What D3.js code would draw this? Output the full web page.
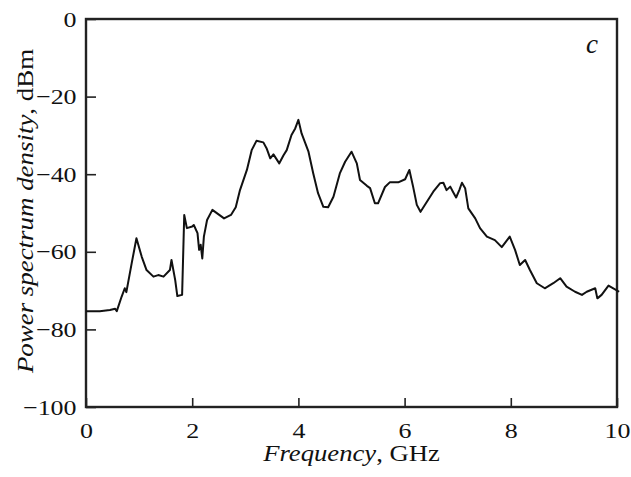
<!DOCTYPE html>
<html>
<head>
<meta charset="utf-8">
<script src="https://cdn.jsdelivr.net/npm/d3@7"></script>
<style>
  body { margin: 0; background: #fff; }
  text { font-family: "Liberation Serif", "Times New Roman", serif; fill: #111; }
</style>
</head>
<body>
<div id="chart"></div>
<script>
const width = 631,
height = 477,
margin = { top: 19, right: 14, bottom: 70, left: 86 }

// spectrum: frequency (GHz) and power (dBm)
const freq = [0, 0.26, 0.45, 0.55, 0.58, 0.67, 0.73, 0.76, 0.86, 0.95, 1.05, 1.14, 1.27, 1.36, 1.46, 1.58, 1.61, 1.68, 1.72, 1.81,
    1.85, 1.90, 2.00, 2.03, 2.10, 2.13, 2.16, 2.19, 2.22, 2.28, 2.38, 2.47, 2.60, 2.73, 2.82, 2.90, 3.03, 3.12, 3.21, 3.34,
    3.40, 3.47, 3.53, 3.64, 3.72, 3.78, 3.87, 3.94, 4.00, 4.06, 4.19, 4.28, 4.37, 4.47, 4.56, 4.66, 4.78, 4.88, 5.00, 5.10,
    5.16, 5.29, 5.35, 5.44, 5.50, 5.63, 5.72, 5.88, 6.01, 6.09, 6.16, 6.23, 6.30, 6.42, 6.54, 6.67, 6.73, 6.79, 6.86, 6.91,
    6.97, 7.03, 7.08, 7.14, 7.20, 7.33, 7.42, 7.55, 7.70, 7.83, 7.98, 8.08, 8.17, 8.27, 8.36, 8.49, 8.64, 8.80, 8.93, 9.05,
    9.21, 9.34, 9.43, 9.59, 9.63, 9.71, 9.84, 9.93, 10.04]
const power = [-75.3, -75.3, -75.0, -74.7, -75.3, -71.6, -69.4, -70.4, -63.0, -56.5, -61.3, -64.7, -66.4, -66.0, -66.4, -64.7, -62.1, -67.3, -71.4, -71.1,
    -50.5, -53.9, -53.5, -53.1, -55.2, -59.5, -58.2, -61.7, -56.1, -51.8, -49.2, -50.1, -51.4, -50.5, -48.5, -44.1, -38.9, -33.8, -31.4, -31.8,
    -33.3, -35.9, -34.9, -37.2, -35.1, -33.8, -29.9, -28.2, -26.0, -29.5, -34.2, -39.8, -44.9, -48.4, -48.5, -45.8, -39.8, -36.8, -34.2, -37.2,
    -41.5, -43.0, -43.6, -47.5, -47.5, -43.3, -42.1, -42.1, -41.3, -38.9, -43.2, -47.9, -49.7, -47.1, -44.5, -42.3, -42.2, -44.1, -43.2, -44.5,
    -46.0, -44.1, -42.2, -43.6, -48.8, -51.4, -53.9, -56.1, -57.0, -58.8, -56.1, -59.5, -63.4, -62.1, -64.7, -68.1, -69.4, -68.1, -66.8, -69.0,
    -70.3, -71.1, -70.3, -69.4, -72.0, -71.1, -68.7, -69.4, -70.3]

const xTicks = [0, 2, 4, 6, 8, 10]
const yTicks = [0, -20, -40, -60, -80, -100]

const data = freq.map((f, i) => ({ f: f, p: power[i] }))

const innerW = width - margin.left - margin.right,
innerH = height - margin.top - margin.bottom

const x = d3.scaleLinear().domain([0, 10]).range([0, innerW])
const y = d3.scaleLinear().domain([-100, 0]).range([innerH, 0])

const svg = d3.select("#chart")
    .append("svg")
    .attr("width", width)
    .attr("height", height)

const g = svg.append("g")
    .attr("transform", `translate(${margin.left},${margin.top})`)

// minus sign instead of hyphen
const fmt = d => d < 0 ? "\u2212" + Math.abs(d) : String(d)

// axes, ticks pointing inward
const xAxis = g.append("g")
    .attr("transform", `translate(0,${innerH})`)
    .call(d3.axisBottom(x).tickValues(xTicks).tickFormat(fmt).tickSize(-9).tickPadding(15))

const yAxis = g.append("g")
    .call(d3.axisLeft(y).tickValues(yTicks).tickFormat(fmt).tickSize(-10).tickPadding(8))

xAxis.select(".domain").remove()
yAxis.select(".domain").remove()

g.selectAll(".tick line").attr("stroke", "#222").attr("stroke-width", 1.6)
g.selectAll(".tick text")
    .attr("font-size", 22)
    .attr("fill", "#111")
    .attr("font-family", "Liberation Serif, serif")
// the reference type is a little wide
xAxis.selectAll(".tick text").attr("transform", "scale(1.18,1)")
yAxis.selectAll(".tick text").attr("transform", "scale(1.18,1)")
xAxis.selectAll(".tick text").attr("x", 0)

// frame
g.append("rect")
    .attr("width", innerW)
    .attr("height", innerH)
    .attr("fill", "none")
    .attr("stroke", "#222")
    .attr("stroke-width", 2.4)

// spectrum
const line = d3.line()
    .x(d => x(d.f))
    .y(d => y(d.p))

g.append("path")
    .datum(data)
    .attr("fill", "none")
    .attr("stroke", "#111")
    .attr("stroke-width", 2)
    .attr("stroke-linejoin", "round")
    .attr("d", line)

// panel letter
g.append("text")
    .attr("transform", `translate(${innerW - 25},${33.5})`)
    .attr("text-anchor", "middle")
    .attr("font-size", 27)
    .attr("font-style", "italic")
    .text("c")

// axis titles
const xt = svg.append("text")
    .attr("transform", `translate(${margin.left + innerW / 2},461) scale(1.16,1)`)
    .attr("text-anchor", "middle")
    .attr("font-size", 23)
xt.append("tspan").attr("font-style", "italic").text("Frequency")
xt.append("tspan").text(", GHz")

const yt = svg.append("text")
    .attr("transform", `translate(33,${margin.top + innerH / 2 - 2}) rotate(-90) scale(1.17,1)`)
    .attr("text-anchor", "middle")
    .attr("font-size", 23)
yt.append("tspan").attr("font-style", "italic").text("Power spectrum density")
yt.append("tspan").text(", dBm")
</script>
</body>
</html>
